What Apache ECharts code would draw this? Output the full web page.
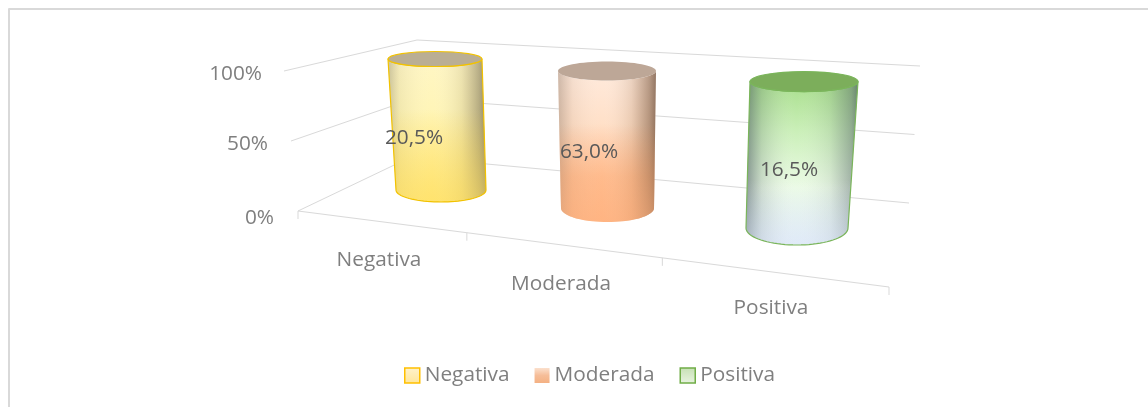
<!DOCTYPE html>
<html><head><meta charset="utf-8">
<style>html,body{margin:0;padding:0;background:#fff}#c{width:1148px;height:407px}</style>
<script src="https://cdn.jsdelivr.net/npm/echarts@6/dist/echarts.min.js"></script>
</head><body><div id="c"></div>
<script>
// ---- data ----
const categories = ['Negativa', 'Moderada', 'Positiva'];
const shares = [20.5, 63.0, 16.5];          // labels on the cylinders
const stackedHeight = [100, 100, 100];      // 100 % stacked: every column fills the axis
const valueTicks = [0, 50, 100];

// ---- look ----
const FONT = '"Open Sans"';
const FS = 20.8;
const GRID_C = '#d9d9d9', TEXT_C = '#7f7f7f', LABEL_C = '#595959';
const G = echarts.graphic.LinearGradient;
// projection constants of the fake-3D scene, per category (px relative to the flat grid)
const persp = [
 {ox:0,    oy:0,  s:1,     lean:-6,   rxB:45,  ryB:12, rxT:47, ryT:7.5, lx:-21, ly:-52},
 {ox:-11.5,oy:18, s:1.046, lean:-0.5, rxB:46.5,ryB:14, rxT:49, ryT:9.5, lx:-18, ly:-56},
 {ox:0,    oy:38, s:1.118, lean:7,    rxB:51,  ryB:17, rxT:54, ryT:10,  lx:-15, ly:-58}
];
const looks = [
 {top:'#baae94', stroke:'#f2c200', sw:1.2,
  v:[[0,'#fff6c4'],[0.35,'#fff5b8'],[1,'#ffe36e']],
  h:[[0,'rgba(120,115,95,0.40)'],[0.12,'rgba(150,140,110,0.12)'],[0.45,'rgba(255,255,255,0)'],[0.75,'rgba(140,125,90,0.16)'],[0.93,'rgba(110,100,75,0.50)'],[1,'rgba(100,90,70,0.70)']],
  b:[[0.35,'rgba(255,227,110,0)'],[1,'rgba(255,227,110,0.55)']]},
 {top:'#bda797', stroke:null, sw:0,
  v:[[0,'#ffeadc'],[0.35,'#ffe0c8'],[0.7,'#ffbd90'],[1,'#ffb482']],
  h:[[0,'rgba(130,110,95,0.40)'],[0.15,'rgba(150,120,100,0.10)'],[0.45,'rgba(255,255,255,0)'],[0.75,'rgba(130,90,60,0.16)'],[0.93,'rgba(110,75,50,0.50)'],[1,'rgba(100,70,50,0.70)']],
  b:[[0.35,'rgba(255,180,130,0)'],[1,'rgba(255,180,130,0.5)']]},
 {top:'#7cae5b', stroke:'#7ab55a', sw:1.2,
  v:[[0,'#a8de8c'],[0.3,'#caefb8'],[0.65,'#ecfbe6'],[1,'#e0eaf8']],
  h:[[0,'rgba(70,85,95,0.60)'],[0.14,'rgba(90,105,110,0.22)'],[0.45,'rgba(255,255,255,0)'],[0.75,'rgba(90,105,110,0.12)'],[0.94,'rgba(80,95,100,0.45)'],[1,'rgba(70,85,95,0.65)']],
  b:[[0.6,'rgba(224,234,248,0)'],[1,'rgba(224,234,248,0.45)']]}
];
// wall corner positions of the scene at value 0 and value 100
const wall = {
 frontL:[[298,211],[284,71]],
 backL:[[411,157],[417,40]],
 backR:[[909,203],[920,66]]
};
const floorFront = [[298,211],[889,287]];
const floorTickAt = [0, 0.2857, 0.6165, 1];
const catLabelPos = [[379,260],[561,284],[771,308]];
const tickLabelPos = {0:[274,218],50:[268,144],100:[262,74]};

function mix(a,b,t){return [a[0]+(b[0]-a[0])*t, a[1]+(b[1]-a[1])*t];}
function stops(list){return list.map(([offset,color])=>({offset,color}));}

const GRID = {left:352, width:534, top:59, height:131};

function renderWall(params, api){
  const v = api.value(0);
  const y0 = api.coord([0,0])[1], y1 = api.coord([0,100])[1];
  const f = (y0 - api.coord([0,v])[1])/(y0-y1);
  const a = mix(wall.frontL[0],wall.frontL[1],f), b = mix(wall.backL[0],wall.backL[1],f), c = mix(wall.backR[0],wall.backR[1],f);
  const pos = tickLabelPos[v];
  return {type:'group', children:[
    {type:'polyline', shape:{points:[a,b,c]}, style:{stroke:GRID_C, lineWidth:1, fill:null}, silent:true},
    {type:'text', style:{text:v+'%', x:pos[0], y:pos[1], align:'right', verticalAlign:'middle', fill:TEXT_C, font:FS+'px '+FONT}}
  ]};
}
function renderFloor(params, api){
  const i = params.dataIndex;
  const ch = [];
  if(i===0) ch.push({type:'line', shape:{x1:floorFront[0][0],y1:floorFront[0][1],x2:floorFront[1][0],y2:floorFront[1][1]}, style:{stroke:GRID_C,lineWidth:1}});
  const p = mix(floorFront[0],floorFront[1],floorTickAt[i]);
  ch.push({type:'line', shape:{x1:p[0],y1:p[1],x2:p[0],y2:p[1]+8}, style:{stroke:GRID_C,lineWidth:1}});
  if(i===floorTickAt.length-1){ return {type:'group',children:ch}; }
  const q = catLabelPos[i];
  ch.push({type:'text', style:{text:categories[i], x:q[0], y:q[1], align:'center', verticalAlign:'middle', fill:TEXT_C, font:FS+'px '+FONT}});
  return {type:'group',children:ch};
}
function arc(cx,cy,rx,ry,from,to,n){
  const out=[];
  for(let k=0;k<=n;k++){const t=from+(to-from)*k/n; out.push([cx+rx*Math.cos(t),cy+ry*Math.sin(t)]);}
  return out;
}
function renderCylinder(params, api){
  const i = api.value(0), h = api.value(1), share = api.value(2);
  const base = api.coord([i,0]), top = api.coord([i,h]);
  const P = persp[i], L = looks[i];
  const bx = base[0]+P.ox, by = base[1]+P.oy;
  const tx = bx+P.lean, ty = by-(base[1]-top[1])*P.s;
  // outline: lower half of the base ellipse (left to right), then the far half of the top ellipse
  const pts = arc(bx,by,P.rxB,P.ryB,Math.PI,0,40).concat(arc(tx,ty,P.rxT,P.ryT,0,Math.PI,40));
  const mk = (fill,stroke,lw)=>({type:'polygon', shape:{points:pts}, style:{fill,stroke,lineWidth:lw,lineJoin:'round'}});
  return {type:'group', children:[
    mk(new G(0,0,0,1,stops(L.v)), null, 0),
    mk(new G(0,0,1,0,stops(L.h)), null, 0),
    mk(new G(0,0,0,1,stops(L.b)), L.stroke, L.sw),
    {type:'ellipse', shape:{cx:tx,cy:ty,rx:P.rxT,ry:P.ryT}, style:{fill:L.top, stroke:L.stroke, lineWidth:L.sw}},
    {type:'text', style:{text:share.toFixed(1).replace('.',',')+'%', x:bx+P.lx+P.lean, y:by+P.ly, align:'center', verticalAlign:'middle', fill:LABEL_C, font:FS+'px '+FONT}}
  ]};
}

const swatch = [
 {color:new G(0,0,0,1,stops([[0,'#fff2cc'],[1,'#ffe699']])), borderColor:'#ffc000', borderWidth:1.5},
 {color:new G(0,0,0,1,stops([[0,'#fbe0cd'],[0.5,'#f6bd98'],[1,'#f4b183']])), borderWidth:0},
 {color:new G(0,0,0,1,stops([[0,'#c6e0b4'],[1,'#e8f3e0']])), borderColor:'#70ad47', borderWidth:1.5}
];

const option = {
  animation:false,
  backgroundColor:'#fff',
  grid:GRID,
  xAxis:{type:'category', data:categories, show:false},
  yAxis:{type:'value', min:0, max:100, interval:50, show:false},
  legend:{left:404, top:365, padding:0, itemWidth:15, itemHeight:15, itemGap:25, selectedMode:false,
    icon:'rect', textStyle:{fontFamily:FONT, fontSize:FS, color:TEXT_C},
    data:categories.map((name,i)=>({name, itemStyle:swatch[i]}))},
  graphic:[
    {type:'line', silent:true, shape:{x1:8.5,y1:9,x2:1148,y2:9}, style:{stroke:GRID_C,lineWidth:2}},
    {type:'line', silent:true, shape:{x1:9,y1:8.5,x2:9,y2:407}, style:{stroke:GRID_C,lineWidth:2}}
  ],
  series:[
    {type:'custom', name:'wall', z:1, silent:true, clip:false, renderItem:renderWall, data:valueTicks.map(v=>[v]), encode:{y:0}},
    {type:'custom', name:'floor', z:1, silent:true, clip:false, renderItem:renderFloor, data:floorTickAt.map((_,i)=>[i]), encode:{x:0}},
    ...categories.map((name,i)=>({type:'custom', name, z:3, silent:true, clip:false, renderItem:renderCylinder,
       itemStyle:swatch[i], data:[[i,stackedHeight[i],shares[i]]], encode:{x:0,y:1}}))
  ]
};
echarts.init(document.getElementById('c'),null,{renderer:'canvas'}).setOption(option);
</script></body></html>
